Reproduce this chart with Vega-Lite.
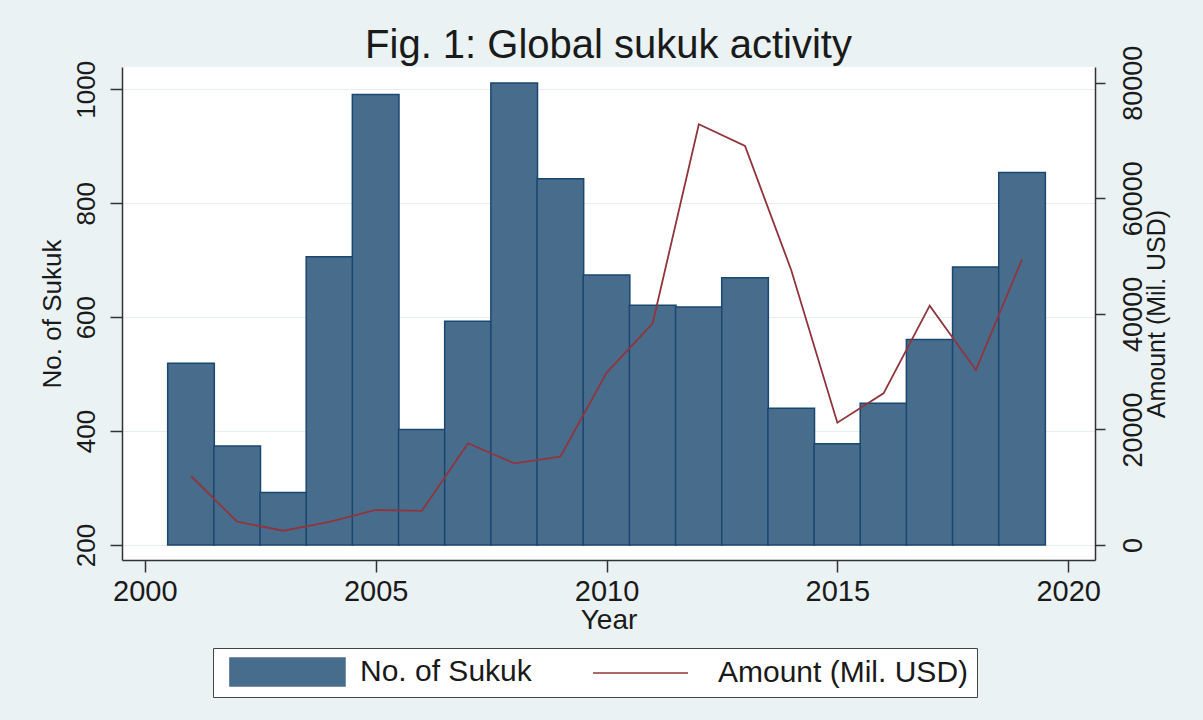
{
  "$schema": "https://vega.github.io/schema/vega-lite/v6.json",
  "width": 973,
  "height": 493,
  "autosize": {"type": "none"},
  "padding": {"left": 122, "top": 67, "right": 108, "bottom": 160},
  "background": "#eaf2f3",
  "title": {
    "text": "Fig. 1: Global sukuk activity",
    "anchor": "middle",
    "frame": "group",
    "fontSize": 40,
    "font": "Liberation Sans",
    "fontWeight": "normal",
    "color": "#1a1a1a",
    "baseline": "alphabetic",
    "offset": -53
  },
  "config": {
    "view": {"fill": "white", "stroke": null},
    "font": "Liberation Sans",
    "axis": {
      "domainColor": "#333333",
      "tickColor": "#333333",
      "domainWidth": 1.5,
      "tickWidth": 1.5,
      "labelColor": "#1a1a1a",
      "titleColor": "#1a1a1a",
      "titleFontWeight": "normal",
      "labelFont": "Liberation Sans",
      "titleFont": "Liberation Sans",
      "labelFlush": false,
      "labelOverlap": false
    }
  },
  "data": {
    "values": [
      {"year": 2001, "count": 519, "amount": 11940},
      {"year": 2002, "count": 374, "amount": 4030},
      {"year": 2003, "count": 292, "amount": 2470},
      {"year": 2004, "count": 706, "amount": 4000},
      {"year": 2005, "count": 991, "amount": 6060},
      {"year": 2006, "count": 403, "amount": 5900},
      {"year": 2007, "count": 593, "amount": 17600},
      {"year": 2008, "count": 1011, "amount": 14140},
      {"year": 2009, "count": 843, "amount": 15280},
      {"year": 2010, "count": 674, "amount": 29800},
      {"year": 2011, "count": 621, "amount": 38360},
      {"year": 2012, "count": 618, "amount": 72800},
      {"year": 2013, "count": 669, "amount": 69050},
      {"year": 2014, "count": 440, "amount": 47600},
      {"year": 2015, "count": 378, "amount": 21160},
      {"year": 2016, "count": 449, "amount": 26250},
      {"year": 2017, "count": 561, "amount": 41410},
      {"year": 2018, "count": 688, "amount": 30280},
      {"year": 2019, "count": 854, "amount": 49440}
    ]
  },
  "layer": [
    {
      "mark": {"type": "bar", "width": 46.65, "fill": "#486c8c", "stroke": "#1a476f", "strokeWidth": 1.5},
      "encoding": {
        "x": {
          "field": "year",
          "type": "quantitative",
          "scale": {"domain": [1999.614, 2020.472], "nice": false, "zero": false},
          "axis": {
            "values": [2000, 2005, 2010, 2015, 2020],
            "format": "d",
            "title": "Year",
            "tickSize": 12,
            "labelFontSize": 29,
            "titleFontSize": 28,
            "labelPadding": 5,
            "titlePadding": 0,
            "grid": false
          }
        },
        "y": {
          "field": "count",
          "type": "quantitative",
          "scale": {"domain": [173.7, 1039.2], "nice": false, "zero": false},
          "axis": {
            "values": [200, 400, 600, 800, 1000],
            "format": "d",
            "title": "No. of Sukuk",
            "labelAngle": -90,
            "labelAlign": "center",
            "labelBaseline": "bottom",
            "tickSize": 12,
            "labelFontSize": 26,
            "titleFontSize": 26,
            "labelPadding": 11,
            "titlePadding": 8,
            "grid": true,
            "gridColor": "#e6eef1",
            "gridWidth": 1
          }
        },
        "y2": {"datum": 200},
        "color": {
          "datum": "No. of Sukuk",
          "type": "nominal",
          "scale": {"domain": ["No. of Sukuk", "Amount (Mil. USD)"], "range": ["#486c8c", "#90353b"]},
          "legend": {
            "orient": "none",
            "legendX": 91,
            "legendY": 581,
            "direction": "horizontal",
            "columns": 2,
            "title": null,
            "fillColor": "white",
            "strokeColor": "#444444",
            "padding": 8,
            "symbolSize": 900,
            "symbolStrokeWidth": 1.5,
            "labelFontSize": 30,
            "labelFont": "Liberation Sans",
            "labelColor": "#1a1a1a",
            "labelLimit": 500,
            "labelOffset": 107,
            "columnPadding": 47,
            "encode": {
              "symbols": {
                "update": {
                  "shape": {"signal": "datum.value === 'No. of Sukuk' ? 'M-0.47,-0.93H7.2V0.93H-0.47Z' : 'M-0.13,0H6.2'"},
                  "fill": {"signal": "datum.value === 'No. of Sukuk' ? '#486c8c' : 'transparent'"},
                  "stroke": {"signal": "datum.value === 'No. of Sukuk' ? '#1a476f' : '#90353b'"},
                  "strokeWidth": {"value": 1.5},
                  "opacity": {"value": 1}
                }
              }
            }
          }
        }
      }
    },
    {
      "mark": {"type": "line", "stroke": "#90353b", "strokeWidth": 1.8},
      "encoding": {
        "x": {"field": "year", "type": "quantitative"},
        "y": {
          "field": "amount",
          "type": "quantitative",
          "scale": {"domain": [-2596, 82717], "nice": false, "zero": false},
          "axis": {
            "orient": "right",
            "values": [0, 20000, 40000, 60000, 80000],
            "format": "d",
            "title": "Amount (Mil. USD)",
            "labelAngle": -90,
            "labelAlign": "center",
            "labelBaseline": "top",
            "tickSize": 10,
            "labelFontSize": 27,
            "labelPadding": 15,
            "titleAngle": -90,
            "titleBaseline": "top",
            "titleFontSize": 25,
            "titlePadding": -2,
            "grid": false
          }
        },
        "color": {
          "datum": "Amount (Mil. USD)",
          "type": "nominal",
          "legend": {
            "orient": "none",
            "legendX": 91,
            "legendY": 581,
            "direction": "horizontal",
            "columns": 2,
            "title": null,
            "fillColor": "white",
            "strokeColor": "#444444",
            "padding": 8,
            "symbolSize": 900,
            "symbolStrokeWidth": 1.5,
            "labelFontSize": 30,
            "labelFont": "Liberation Sans",
            "labelColor": "#1a1a1a",
            "labelLimit": 500,
            "labelOffset": 107,
            "columnPadding": 47,
            "encode": {
              "symbols": {
                "update": {
                  "shape": {"signal": "datum.value === 'No. of Sukuk' ? 'M-0.47,-0.93H7.2V0.93H-0.47Z' : 'M-0.13,0H6.2'"},
                  "fill": {"signal": "datum.value === 'No. of Sukuk' ? '#486c8c' : 'transparent'"},
                  "stroke": {"signal": "datum.value === 'No. of Sukuk' ? '#1a476f' : '#90353b'"},
                  "strokeWidth": {"value": 1.5},
                  "opacity": {"value": 1}
                }
              }
            }
          }
        }
      }
    }
  ],
  "resolve": {"scale": {"y": "independent"}}
}
